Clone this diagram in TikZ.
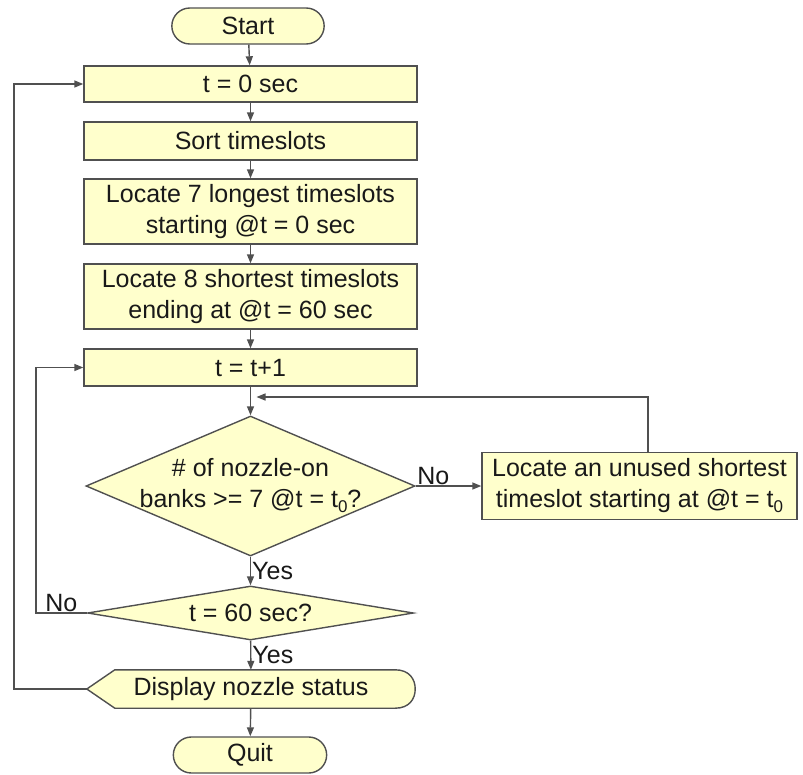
\documentclass[tikz,border=0pt]{standalone}
\usepackage{fontspec}
\setmainfont{Liberation Sans}
\usetikzlibrary{shapes.geometric,shapes.misc,arrows.meta,backgrounds}
\definecolor{chartyellow}{RGB}{255,255,204}
\definecolor{chartline}{RGB}{80,80,80}

\begin{document}
\begin{tikzpicture}[x=1pt,y=-1pt,
  font=\fontsize{25}{31}\selectfont,
  every node/.style={text=black!90},
  boxfill/.style={draw=chartline,line width=1.4pt,fill=chartyellow},
  terminal/.style={boxfill,rounded rectangle,minimum width=159pt,minimum height=36pt},
  process/.style={boxfill,rectangle,minimum width=333pt,align=center,inner sep=0pt},
  decision/.style={boxfill,diamond,aspect=6,inner sep=0pt},
  flow/.style={draw=chartline,line width=1.4pt,-{Triangle[length=9pt,width=7pt]}},
  answer/.style={inner sep=1pt}]
\useasboundingbox (0,0) rectangle (803,774);

\node[terminal] (start) at (248,26) {Start};
\node[process,minimum height=36pt] (tzero) at (250.5,84) {t = 0 sec};
\node[process,minimum height=38pt] (sort) at (250.5,141) {Sort timeslots};
\node[process,minimum height=65pt] (longest) at (250.5,211.5) {Locate 7 longest timeslots\\starting @t = 0 sec};
\node[process,minimum height=65pt] (shortest) at (250.5,296.5) {Locate 8 shortest timeslots\\ending at @t = 60 sec};
\node[process,minimum height=37pt] (tnext) at (250.5,367.5) {t = t+1};

\node[decision,minimum width=329pt,minimum height=140pt,
  label={[align=center]center:{\# of nozzle-on\\banks >= 7 @t = t\raisebox{-5pt}{\fontsize{17}{17}\selectfont 0}?}}] (banks) at (250.5,486) {};
\node[process,minimum width=315pt,minimum height=67pt] (unused) at (639.5,486)
  {Locate an unused shortest\\timeslot starting at @t = t\raisebox{-5pt}{\fontsize{17}{17}\selectfont 0}};
\node[decision,minimum width=326pt,minimum height=54pt] (tend) at (250.5,613) {t = 60 sec?};
\node[minimum width=328pt,minimum height=38pt,inner sep=0pt] (display) at (251,689) {Display nozzle status};
\node[terminal,minimum width=160pt] (quit) at (250,755) {Quit};

\coordinate (merge) at (250.5,397);

% display symbol behind its text
\begin{scope}[on background layer]
\draw[boxfill] (display.west) -- ([xshift=28pt]display.north west)
  -- ([xshift=-20pt]display.north east)
  .. controls ([xshift=-6pt]display.north east) and ([yshift=10pt]display.east) .. (display.east)
  .. controls ([yshift=-10pt]display.east) and ([xshift=-6pt]display.south east) .. ([xshift=-20pt]display.south east)
  -- ([xshift=28pt]display.south west) -- cycle;
\end{scope}

\draw[flow] (start) -- (tzero);
\draw[flow] (tzero) -- (sort);
\draw[flow] (sort) -- (longest);
\draw[flow] (longest) -- (shortest);
\draw[flow] (shortest) -- (tnext);
\draw[flow] (tnext) -- (banks);
\draw[flow] (banks.east) -- node[above,answer,pos=0.27]{No} (unused.west);
\draw[flow] ([xshift=8.5pt]unused.north) |- ([xshift=6pt]merge);
\draw[flow] (banks) -- node[right,answer]{Yes} (tend);
\draw[flow] (tend.west) -- node[above,answer]{No} ++(-51,0) |- (tnext.west);
\draw[flow] (tend) -- node[right,answer]{Yes} (display);
\draw[flow] (display.west) -- ++(-73,0) |- (tzero.west);
\draw[flow] (display) -- (quit);
\end{tikzpicture}
\end{document}
